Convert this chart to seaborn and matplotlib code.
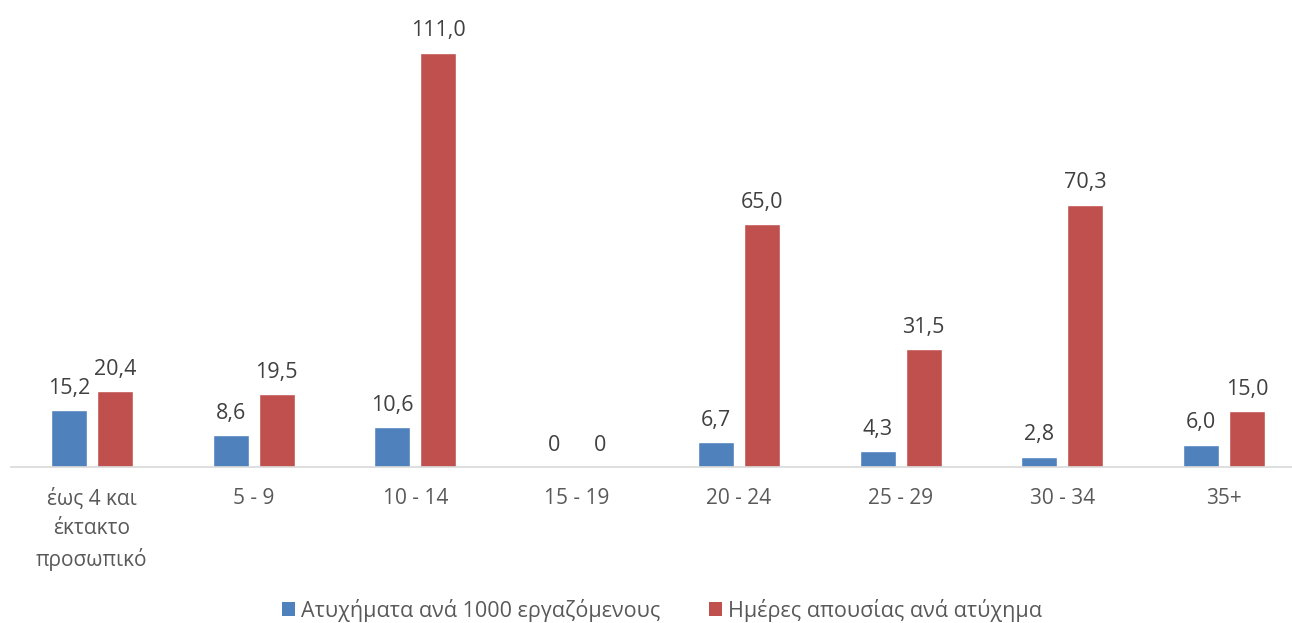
import matplotlib
matplotlib.use("Agg")
import matplotlib.pyplot as plt
import seaborn as sns
import pandas as pd
from matplotlib.patches import Patch

categories = ["έως 4 και\nέκτακτο\nπροσωπικό", "5 - 9", "10 - 14", "15 - 19",
              "20 - 24", "25 - 29", "30 - 34", "35+"]
series_names = ["Ατυχήματα ανά 1000 εργαζόμενους", "Ημέρες απουσίας ανά ατύχημα"]
accidents = [15.2, 8.6, 10.6, 0, 6.7, 4.3, 2.8, 6.0]
absence_days = [20.4, 19.5, 111.0, 0, 65.0, 31.5, 70.3, 15.0]
colors = ["#4F81BD", "#C0504D"]

df = pd.DataFrame({
    "cat": categories * 2,
    "series": [series_names[0]] * len(categories) + [series_names[1]] * len(categories),
    "value": accidents + absence_days,
})

sns.set_theme(style="white")
plt.rcParams["font.family"] = ["Open Sans", "DejaVu Sans"]

fig = plt.figure(figsize=(12.92, 6.23), dpi=100)
ax = fig.add_axes([11 / 1292, (623 - 467) / 623, (1292 - 11) / 1292, (467 - 19) / 623])

sns.barplot(data=df, x="cat", y="value", hue="series", order=categories,
            hue_order=series_names, palette=colors, width=0.57, gap=0.22,
            saturation=1, legend=False, ax=ax)

ax.set_xlim(-0.5, 7.42)
ax.set_ylim(0, 120)

def fmt(v):
    return "0" if v == 0 else f"{v:.1f}".replace(".", ",")

for container in ax.containers:
    ax.bar_label(container, labels=[fmt(b.get_height()) for b in container],
                 padding=8, fontsize=15.5, color="#404040")

for s in ["top", "right", "left"]:
    ax.spines[s].set_visible(False)
ax.spines["bottom"].set_color("#D9D9D9")
ax.spines["bottom"].set_linewidth(1.2)
ax.set_yticks([])
ax.set_xlabel("")
ax.set_ylabel("")
ax.tick_params(axis="x", length=0, pad=15, labelsize=15, labelcolor="#595959")
for lbl in ax.get_xticklabels():
    lbl.set_linespacing(1.5)

handles = [Patch(facecolor=c, edgecolor="none") for c in colors]
leg = fig.legend(handles, series_names, loc="center", ncol=2, frameon=False,
                 fontsize=15.5, handlelength=0.6, handleheight=0.6,
                 handletextpad=0.25, columnspacing=2.3, labelcolor="#595959",
                 bbox_to_anchor=(662 / 1292, (623 - 610) / 623))

fig.savefig("out.png", dpi=100, facecolor="white")
